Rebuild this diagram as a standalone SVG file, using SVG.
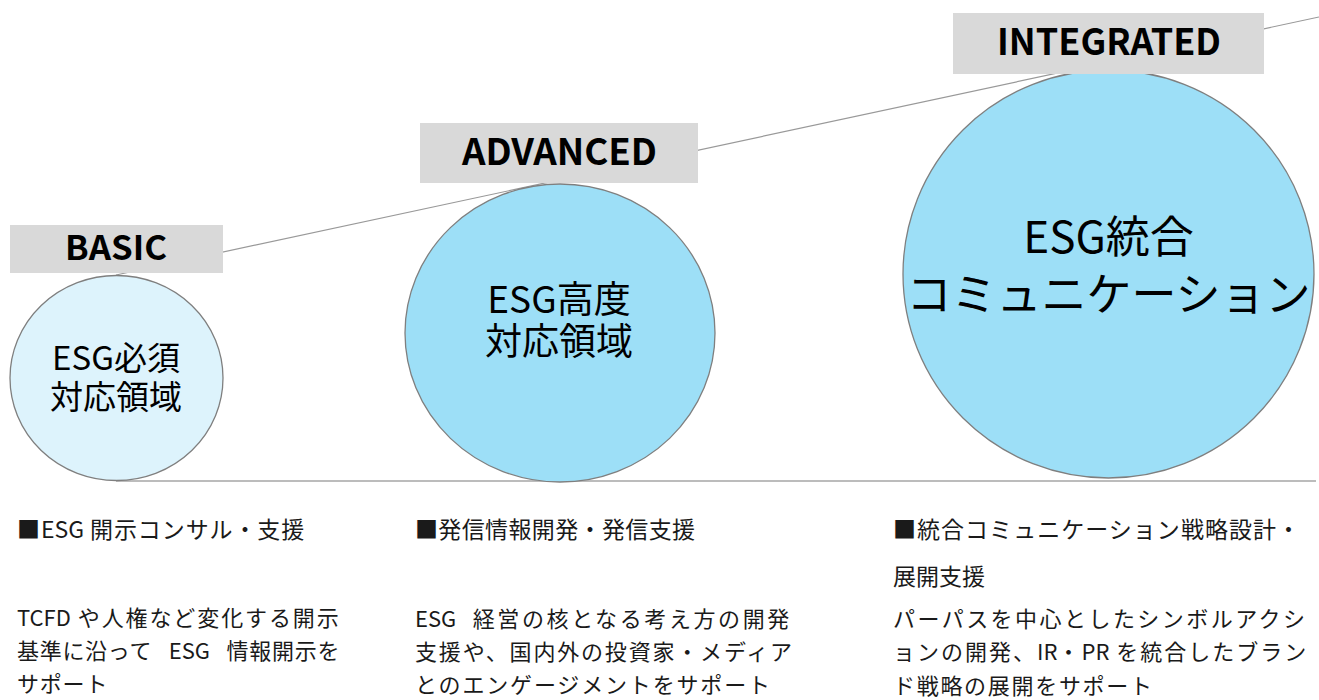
<svg xmlns="http://www.w3.org/2000/svg" width="1319" height="700" viewBox="0 0 1319 700">
  <style>
    .lbl { fill: #d9d9d9; }
    .lbltxt { font-family: "Noto Sans CJK JP", "Noto Sans", sans-serif; font-weight: 700; fill: #000; text-anchor: middle; }
    .circ { stroke: #7f7f7f; stroke-width: 1.3; }
    .ctxt { font-family: "Noto Sans CJK JP", "Noto Sans", sans-serif; fill: #000; text-anchor: middle; }
    .body { font-family: "Noto Sans CJK JP", "Noto Sans", sans-serif; font-size: 22px; fill: #1a1a1a; }
    .head { font-family: "Noto Sans CJK JP", "Noto Sans", sans-serif; font-size: 23px; fill: #1a1a1a; }
    .lat { letter-spacing: 0; }
  </style>
  <rect width="1319" height="700" fill="#ffffff"/>
  <g id="connectors">
    <line x1="116" y1="275" x2="1319" y2="17" stroke="#999999" stroke-width="1.2"/>
    <line x1="116" y1="481" x2="1316" y2="481" stroke="#a6a6a6" stroke-width="1.5"/>
  </g>
  <g id="basic">
    <ellipse class="circ" cx="116.5" cy="378" rx="106.5" ry="102.5" fill="#ddf3fc"/>
    <rect class="lbl" x="10" y="225" width="213" height="48"/>
    <text class="lbltxt" x="116" y="260" font-size="34" textLength="102" lengthAdjust="spacingAndGlyphs">BASIC</text>
    <text class="ctxt" font-size="33"><tspan x="116" y="370">ESG必須</tspan><tspan x="116" y="409">対応領域</tspan></text>
  </g>
  <g id="advanced">
    <ellipse class="circ" cx="560" cy="333" rx="155" ry="149" fill="#9ddff7"/>
    <rect class="lbl" x="420" y="123" width="278" height="60"/>
    <text class="lbltxt" x="559.5" y="165" font-size="37" textLength="195" lengthAdjust="spacingAndGlyphs">ADVANCED</text>
    <text class="ctxt" font-size="37"><tspan x="559" y="313">ESG高度</tspan><tspan x="559" y="355">対応領域</tspan></text>
  </g>
  <g id="integrated">
    <ellipse class="circ" cx="1108.5" cy="274" rx="205.5" ry="204" fill="#9ddff7"/>
    <rect class="lbl" x="953" y="13" width="311" height="61"/>
    <text class="lbltxt" x="1109" y="55" font-size="37" textLength="224" lengthAdjust="spacingAndGlyphs">INTEGRATED</text>
    <text class="ctxt"><tspan x="1108.5" y="253" font-size="44">ESG統合</tspan><tspan x="1108.5" y="311" font-size="45">コミュニケーション</tspan></text>
  </g>
  <g id="desc-basic">
    <text class="head" x="17" y="538" letter-spacing="0.9">■<tspan class="lat">ESG</tspan> 開示コンサル・支援</text>
    <text class="body" x="17" y="626" letter-spacing="1.9"><tspan class="lat">TCFD</tspan> や人権など変化する開示</text>
    <text class="body" x="17" y="659" word-spacing="11" letter-spacing="0.7">基準に沿って <tspan class="lat">ESG</tspan> 情報開示を</text>
    <text class="body" x="17" y="692" letter-spacing="0.8">サポート</text>
  </g>
  <g id="desc-advanced">
    <text class="head" x="415" y="538" textLength="280" lengthAdjust="spacing">■発信情報開発・発信支援</text>
    <text class="body" x="415" y="627" letter-spacing="2.6" word-spacing="9"><tspan class="lat">ESG</tspan> 経営の核となる考え方の開発</text>
    <text class="body" x="415" y="660" textLength="377" lengthAdjust="spacing">支援や、国内外の投資家・メディア</text>
    <text class="body" x="415" y="693" textLength="355" lengthAdjust="spacing">とのエンゲージメントをサポート</text>
  </g>
  <g id="desc-integrated">
    <text class="head" x="893" y="538" textLength="407" lengthAdjust="spacing">■統合コミュニケーション戦略設計・</text>
    <text class="head" x="893" y="585" textLength="92" lengthAdjust="spacing">展開支援</text>
    <text class="body" x="893" y="627" textLength="412" lengthAdjust="spacing">パーパスを中心としたシンボルアクシ</text>
    <text class="body" x="893" y="660" letter-spacing="2">ョンの開発、<tspan class="lat">IR</tspan>・<tspan class="lat">PR</tspan> を統合したブラン</text>
    <text class="body" x="893" y="694" textLength="259" lengthAdjust="spacing">ド戦略の展開をサポート</text>
  </g>
</svg>
